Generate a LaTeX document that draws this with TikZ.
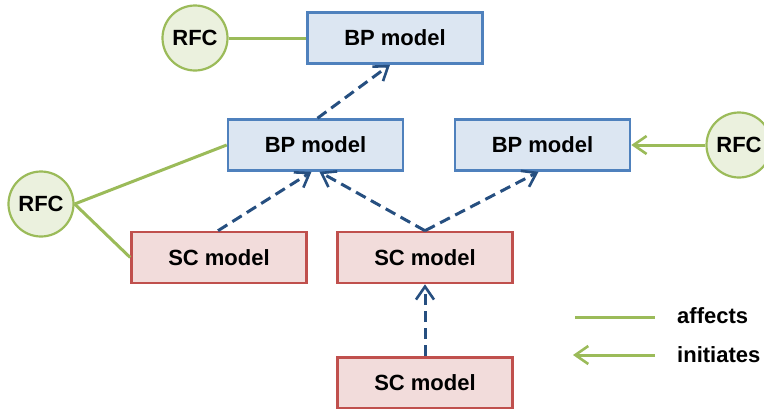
\documentclass[tikz,border=0pt]{standalone}
\usepackage{fontspec}
\setmainfont{Liberation Sans}
\usetikzlibrary{arrows.meta}
\definecolor{bpfill}{HTML}{DCE6F2}
\definecolor{bpline}{HTML}{4F81BD}
\definecolor{scfill}{HTML}{F2DCDB}
\definecolor{scline}{HTML}{C0504D}
\definecolor{rfcfill}{HTML}{EBF1DE}
\definecolor{rfcline}{HTML}{9BBB59}
\definecolor{flow}{HTML}{264F80}
\tikzset{
  x=1pt, y=-1pt,
  every node/.style={font=\fontsize{22}{26}\selectfont\bfseries},
  bpbox/.style={draw=bpline, fill=bpfill, line width=2.6pt, minimum width=175pt, minimum height=51pt, inner sep=0pt},
  scbox/.style={draw=scline, fill=scfill, line width=2.6pt, minimum width=175pt, minimum height=51pt, inner sep=0pt},
  rfc/.style={circle, draw=rfcline, fill=rfcfill, line width=2.2pt, minimum size=65pt, inner sep=0pt},
  barb/.style={-{Straight Barb[length=13pt,width=18pt,line width=2.6pt]}},
  affects/.style={draw=rfcline, line width=3pt},
  initiates/.style={draw=rfcline, line width=3pt, barb},
  derives/.style={draw=flow, line width=3pt, dash pattern=on 11pt off 6pt, barb},
  legendtext/.style={anchor=west, inner sep=0pt}
}
\begin{document}
\begin{tikzpicture}
\useasboundingbox (0,0) rectangle (764,408);
% model boxes
\node[bpbox] (bptop) at (395,38) {BP model};
\node[bpbox] (bpmid) at (315.5,145) {BP model};
\node[bpbox] (bpright) at (542.5,145) {BP model};
\node[scbox] (scleft) at (219,257.5) {SC model};
\node[scbox] (scmid) at (425,257.5) {SC model};
\node[scbox] (scbot) at (425,383) {SC model};
% RFC circles
\node[rfc] (rfctop) at (195,38) {RFC};
\node[rfc] (rfcleft) at (41,204) {RFC};
\node[rfc] (rfcright) at (739,145) {RFC};
% influence links
\draw[affects] (rfctop) -- (bptop.west);
\draw[affects] (rfcleft.east) -- (bpmid.west);
\draw[affects] (rfcleft.east) -- (scleft.west);
\draw[initiates] (rfcright) -- (bpright.east);
% derivation links
\draw[derives] ([xshift=2pt]bpmid.north) -- ([xshift=-5pt]bptop.south);
\draw[derives] ([xshift=-1pt]scleft.north) -- ([xshift=-4pt]bpmid.south);
\draw[derives] (scmid.north) -- ([xshift=4pt]bpmid.south);
\draw[derives] (scmid.north) -- ([xshift=-4pt]bpright.south);
\draw[derives] (scbot.north) -- (scmid.south);
% legend
\coordinate (la1) at (575,317);
\coordinate (la2) at (655,317);
\coordinate (li1) at (655,355);
\coordinate (li2) at (573,355);
\draw[affects] (la1) -- (la2);
\draw[initiates] (li1) -- (li2);
\node[legendtext] (laff) at (677,316) {affects};
\node[legendtext] (lini) at (677,355) {initiates};
\end{tikzpicture}
\end{document}
